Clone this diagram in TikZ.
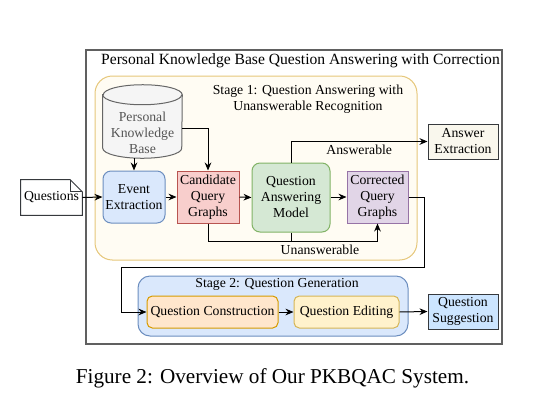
\documentclass[tikz,border=0pt]{standalone}
\usepackage{fontspec}
\setmainfont{Liberation Serif}
\usetikzlibrary{arrows.meta,calc}
\definecolor{bfill}{HTML}{DAE8FC}\definecolor{bline}{HTML}{6C8EBF}
\definecolor{rfill}{HTML}{F8CECC}\definecolor{rline}{HTML}{B85450}
\definecolor{gfill}{HTML}{D5E8D4}\definecolor{gline}{HTML}{82B366}
\definecolor{pfill}{HTML}{E1D5E7}\definecolor{pline}{HTML}{9673A6}
\definecolor{ofill}{HTML}{FFE6CC}\definecolor{oline}{HTML}{D79B00}
\definecolor{yfill}{HTML}{FFF2CC}\definecolor{yline}{HTML}{D6B656}
\definecolor{cylfill}{HTML}{F5F5F5}\definecolor{cylline}{HTML}{666666}
\definecolor{aefill}{HTML}{F9F7ED}\definecolor{dline}{HTML}{36393D}
\definecolor{qsfill}{HTML}{CCE5FF}
\definecolor{s1fill}{HTML}{FFFCF3}\definecolor{s1line}{HTML}{E6C77A}
\definecolor{outline}{HTML}{606060}
\definecolor{kbtext}{HTML}{555555}
\begin{document}
\begin{tikzpicture}[x=0.75pt,y=-0.75pt,
  txt/.style={font=\fontsize{10.3}{12}\selectfont, align=center, inner sep=0pt},
  box/.style={txt, draw, line width=0.75pt},
  rbox/.style={box, rounded corners=6pt},
  arr/.style={-{Stealth[length=6pt,width=5pt]}, line width=0.75pt},
  ln/.style={line width=0.75pt}]
\useasboundingbox (0,0) rectangle (540,412);

% outer frame
\node[draw=outline, line width=1pt, minimum width=312pt, minimum height=220.5pt, inner sep=0pt] (outer) at (294,197) {};
\node[font=\fontsize{11.7}{14}\selectfont, inner sep=0pt] (title) at (300.5,61) {Personal Knowledge Base Question Answering with Correction};

% stage 1
\node[draw=s1line, fill=s1fill, line width=0.75pt, rounded corners=13pt, minimum width=241.5pt, minimum height=138pt, inner sep=0pt] (s1) at (256,168) {};
\node[txt] (s1t) at (308,99.5) {Stage 1: Question Answering with\\Unanswerable Recognition};

% knowledge base cylinder
\node[minimum width=59.25pt, minimum height=54.75pt, inner sep=0pt] (kb) at (142.5,121.5) {};
\draw[cylline, fill=cylfill, line width=0.75pt]
  ($(kb.north west)+(0,-7.5pt)$) -- ($(kb.south west)+(0,7.5pt)$)
  arc[start angle=180, end angle=360, x radius=29.625pt, y radius=7.5pt]
  -- ($(kb.north east)+(0,-7.5pt)$)
  arc[start angle=0, end angle=180, x radius=29.625pt, y radius=7.5pt] -- cycle;
\draw[cylline, line width=0.75pt] ($(kb.north west)+(0,-7.5pt)$)
  arc[start angle=180, end angle=360, x radius=29.625pt, y radius=7.5pt];
\node[txt, text=kbtext] (kbt) at (142.5,133) {Personal\\Knowledge\\Base};

% stage 1 boxes
\node[rbox, fill=bfill, draw=bline, minimum width=46.5pt, minimum height=39pt] (ev) at (134,197) {Event\\Extraction};
\node[box, fill=rfill, draw=rline, minimum width=46.5pt, minimum height=39pt] (cand) at (208,197) {Candidate\\Query\\Graphs};
\node[rbox, fill=gfill, draw=gline, minimum width=58.5pt, minimum height=51.75pt] (qa) at (291,197.5) {Question\\Answering\\Model};
\node[box, fill=pfill, draw=pline, minimum width=45.75pt, minimum height=39pt] (cor) at (377.5,197) {Corrected\\Query\\Graphs};

% questions note
\node[txt, minimum width=45.75pt, minimum height=26.25pt] (q) at (51.5,197.5) {Questions};
\draw[line width=0.75pt, draw=dline, fill=white]
  (q.south west) -- (q.south east) -- ($(q.north east)+(0,-9pt)$) -- ($(q.north east)+(-9pt,0)$) -- (q.north west) -- cycle;
\draw[line width=0.75pt, draw=dline] ($(q.north east)+(-9pt,0)$) -- ($(q.north east)+(-9pt,-9pt)$) -- ($(q.north east)+(0,-9pt)$);
\node[txt] at (q) {Questions};

% answer extraction
\node[box, fill=aefill, draw=dline, minimum width=52.5pt, minimum height=26.25pt] (ans) at (463,141.5) {Answer\\Extraction};

% stage 2
\node[draw=bline, fill=bfill, line width=0.75pt, rounded corners=9pt, minimum width=202.5pt, minimum height=45pt, inner sep=0pt] (s2) at (273,306) {};
\node[txt] (s2t) at (277,284) {Stage 2: Question Generation};
\node[rbox, rounded corners=4pt, fill=ofill, draw=oline, minimum width=98.25pt, minimum height=24pt] (qc) at (212.5,312) {Question Construction};
\node[rbox, rounded corners=4pt, fill=yfill, draw=yline, minimum width=78.75pt, minimum height=24pt] (qe) at (346.5,312) {Question Editing};
\node[box, fill=qsfill, draw=dline, minimum width=52.5pt, minimum height=26.25pt] (qs) at (463,311.5) {Question\\Suggestion};

% connectors
\draw[arr] (kb.south -| ev.north) -- (ev.north);
\draw[arr] ($(kb.east)+(0,6.5)$) -| (cand.north);
\draw[arr] (q.east) -- (ev.west);
\draw[arr] (ev.east) -- (cand.west);
\draw[arr] (cand.east) -- (qa.west -| qa.west) ;
\draw[arr] (qa.east |- cor.west) -- (cor.west);
\draw[arr] (qa.north) |- (ans.west) node[txt, pos=0.75, below=2pt] (answ) {Answerable};
\draw[arr] (cand.south) |- ($(cor.south)+(0,18)$) -- (cor.south);
\draw[ln] (qa.south) -- ($(qa.south)+(0,9)$);
\node[txt] (unans) at (320,250) {Unanswerable};
\draw[arr] (cor.east) -- (424,197) |- (121,267) |- (qc.west);
\draw[arr] (qc.east) -- (qe.west);
\draw[arr] (qe.east) -- (qs.west);

% caption
\node[font=\fontsize{15.9}{18}\selectfont, inner sep=0pt] (cap) at (272.5,378) {Figure 2: Overview of Our PKBQAC System.};
\end{tikzpicture}
\end{document}
